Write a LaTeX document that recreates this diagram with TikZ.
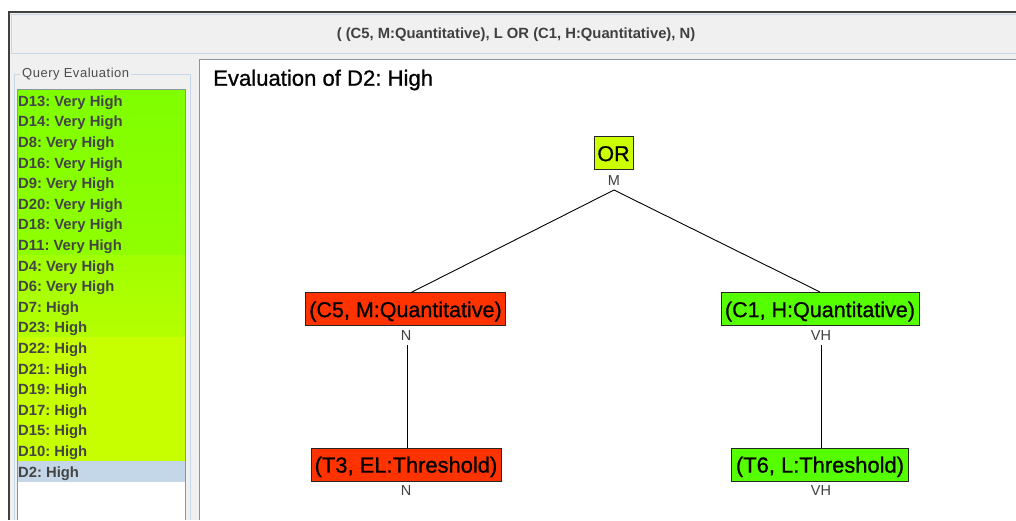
\documentclass[tikz,border=0pt]{standalone}
\usepackage{fontspec}
\setmainfont{Liberation Sans}
\newfontfamily\semifont[FakeBold=0.8]{Liberation Sans}
\newfontfamily\legendfont[LetterSpace=4]{Liberation Sans}
\frenchspacing
\definecolor{panel}{HTML}{F0F0F0}
\definecolor{edgeblue}{HTML}{C6D8E8}
\definecolor{frameg}{HTML}{8A949C}
\definecolor{txtg}{HTML}{444444}
\definecolor{nred}{HTML}{FF3300}
\definecolor{ngreen}{HTML}{55FF00}
\definecolor{nyellow}{HTML}{CCFF00}
\definecolor{sel}{HTML}{C4D7E8}
\definecolor{ga}{HTML}{7FFF00}
\definecolor{gb}{HTML}{90FF00}
\definecolor{gc}{HTML}{A0FF00}
\definecolor{gd}{HTML}{B4FF00}
\definecolor{ge}{HTML}{C8FF00}
\tikzset{
  x=1pt,y=-1pt,
  tnode/.style={draw=black!85,line width=1pt,inner sep=0pt,minimum height=33pt,text=black,text height=20.6pt,text depth=4.4pt,font=\semifont\fontsize{21.5}{22}\selectfont},
  leafnode/.style={tnode,font=\semifont\fontsize{21.9}{22}\selectfont},
  val/.style={inner sep=0pt,text=black!75,font=\fontsize{14.5}{15}\selectfont},
  edge/.style={draw=black,line width=0.9pt},
  row/.style={anchor=west,inner sep=0pt,text=txtg,font=\bfseries\fontsize{14.8}{15}\selectfont},
  bar/.style={inner sep=0pt,text=black!75,font=\bfseries\fontsize{14.8}{15}\selectfont}
}
\newcommand{\listrow}[3]{%
  \node[row] (r#1) at (18,{102.5+20.6*(#1)}) {#2: #3};%
}
\begin{document}
\begin{tikzpicture}
\useasboundingbox (0,0) rectangle (1016,520);
\fill[white] (0,0) rectangle (1016,520);
\fill[panel] (9,13) rectangle (1016,520);
\draw[line width=1.3pt,black!75] (1016,12) -- (9,12) -- (9,520);
\draw[edgeblue,line width=1pt] (1016,14.5) -- (11,14.5) -- (11,53) -- (1016,53);
\node[bar] (title) at (516,35) {( (C5, M:Quantitative), L OR (C1, H:Quantitative), N)};
\fill[white] (200,60) rectangle (1016,520);
\draw[frameg,line width=1pt] (1016,59.5) -- (199.5,59.5) -- (199.5,520);
% query panel
\draw[edgeblue,line width=0.9pt] (14,520) -- (14,74) -- (20,74);
\draw[edgeblue,line width=0.9pt] (131,74) -- (190.5,74) -- (190.5,520);
\node[anchor=west,inner sep=0pt,text=black!70,font=\legendfont\fontsize{13}{13}\selectfont] (qe) at (22,74) {Query Evaluation};
\fill[white] (18,90) rectangle (185,520);
\shade[top color=ga,bottom color=gb] (18,90) rectangle (185,255);
\shade[top color=gc,bottom color=gd] (18,255) rectangle (185,337);
\fill[ge] (18,337) rectangle (185,461);
\fill[sel] (18,461) rectangle (185,481.5);
\listrow{0}{D13}{Very High}
\listrow{1}{D14}{Very High}
\listrow{2}{D8}{Very High}
\listrow{3}{D16}{Very High}
\listrow{4}{D9}{Very High}
\listrow{5}{D20}{Very High}
\listrow{6}{D18}{Very High}
\listrow{7}{D11}{Very High}
\listrow{8}{D4}{Very High}
\listrow{9}{D6}{Very High}
\listrow{10}{D7}{High}
\listrow{11}{D23}{High}
\listrow{12}{D22}{High}
\listrow{13}{D21}{High}
\listrow{14}{D19}{High}
\listrow{15}{D17}{High}
\listrow{16}{D15}{High}
\listrow{17}{D10}{High}
\listrow{18}{D2}{High}
\draw[frameg,line width=1pt] (17.5,520) -- (17.5,89.5) -- (185.5,89.5) -- (185.5,520);
% main
\node[anchor=west,inner sep=0pt,text=black,font=\semifont\fontsize{22.1}{23}\selectfont] (head) at (213,80) {Evaluation of D2: High};
\node[tnode,fill=nyellow,minimum width=39pt] (or) at (613.5,153) {OR};
\node[val] (orv) at (614,180.5) {M};
\node[tnode,fill=nred,minimum width=200pt] (c5) at (405.5,309) {(C5, M:Quantitative)};
\node[val] (c5v) at (406,336) {N};
\node[tnode,fill=ngreen,minimum width=198pt] (c1) at (820,309) {(C1, H:Quantitative)};
\node[val] (c1v) at (821,336) {VH};
\node[leafnode,fill=nred,minimum width=190pt] (t3) at (406,464.5) {(T3, EL:Threshold)};
\node[val] (t3v) at (406,491) {N};
\node[leafnode,fill=ngreen,minimum width=177pt] (t6) at (820,464.5) {(T6, L:Threshold)};
\node[val] (t6v) at (821,491) {VH};
\coordinate (ortip) at (614,190);
\coordinate (c5t) at (411,292.5);
\coordinate (c5b) at (407,345);
\coordinate (c1b) at (821.5,345);
\draw[edge] (ortip) -- (c5t);
\draw[edge] (ortip) -- (c1.north);
\draw[edge] (c5b) -- (c5b |- t3.north);
\draw[edge] (c1b) -- (c1b |- t6.north);
\end{tikzpicture}
\end{document}
